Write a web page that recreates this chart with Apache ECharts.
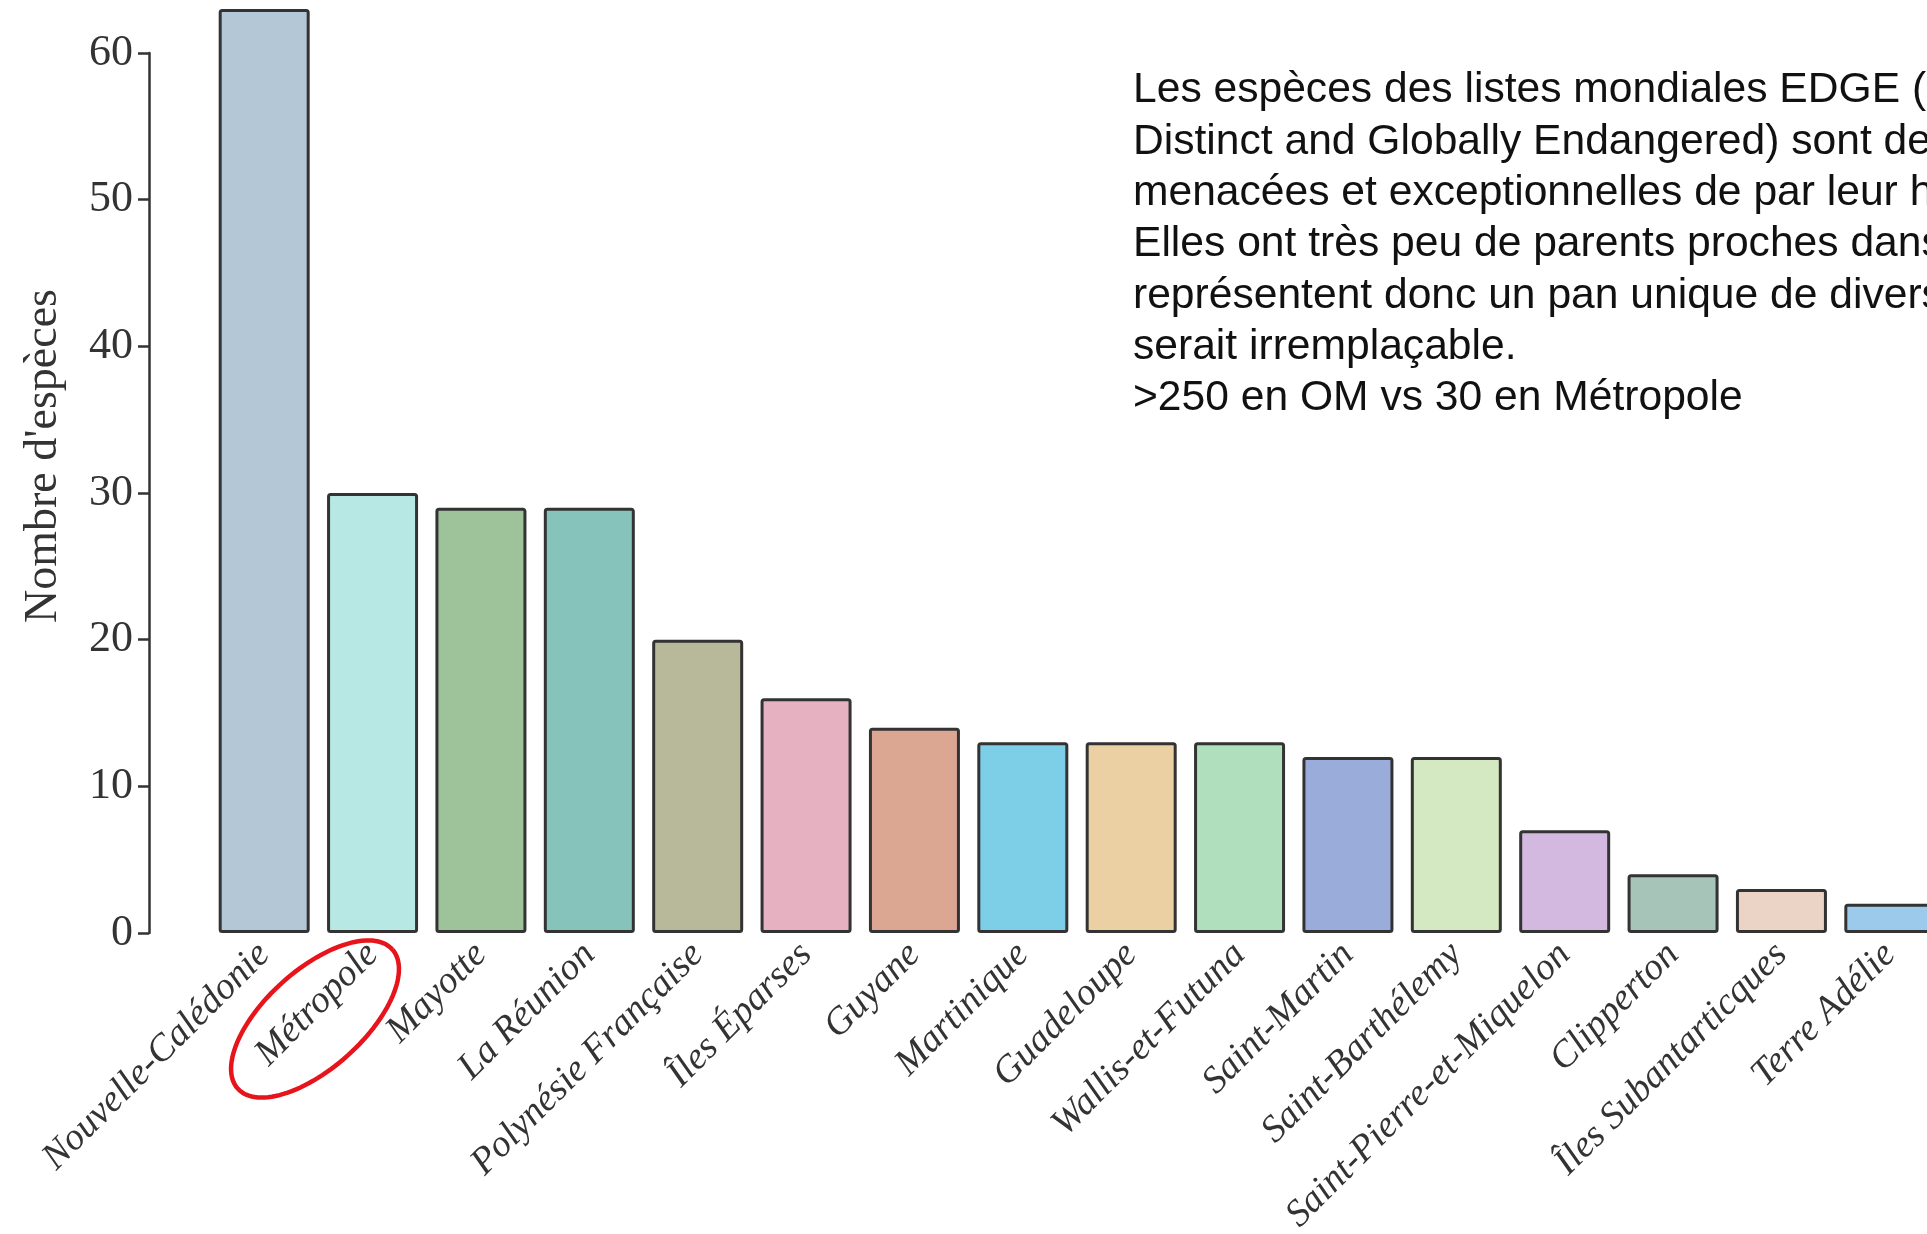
<!DOCTYPE html>
<html><head><meta charset="utf-8">
<script src="https://cdn.jsdelivr.net/npm/echarts@6/dist/echarts.min.js"></script>
<style>html,body{margin:0;padding:0;background:#fff;overflow:hidden}#c{width:1927px;height:1234px}</style>
</head><body><div id="c"></div>
<script>
const categories = ["Nouvelle-Calédonie","Métropole","Mayotte","La Réunion","Polynésie Française","Îles Éparses","Guyane","Martinique","Guadeloupe","Wallis-et-Futuna","Saint-Martin","Saint-Barthélemy","Saint-Pierre-et-Miquelon","Clipperton","Îles Subantarticques","Terre Adélie"];
const values = [63,30,29,29,20,16,14,13,13,13,12,12,7,4,3,2];
const barColors = ["#b3c7d7","#b8e8e4","#9ec29a","#86c4bb","#b8b99a","#e6b1c1","#dba692","#7dcfe8","#ebd0a3","#b0dfbd","#9aadda","#d4e9c2","#d3b8e0","#a6c4b8","#ebd4c5","#9ccaeb"];
const yTicks = [0,10,20,30,40,50,60];
const yAxisTitle = "Nombre d'espèces";
const noteLines = ["Les espèces des listes mondiales EDGE (Evolutionarily","Distinct and Globally Endangered) sont des espèces","menacées et exceptionnelles de par leur histoire","Elles ont très peu de parents proches dans","représentent donc un pan unique de diversité","serait irremplaçable.",">250 en OM vs 30 en Métropole"];

const chart = echarts.init(document.getElementById('c'), null, {renderer:'canvas'});

// red ellipse annotation around "Métropole"
function ellipsePts(cx, cy, a, b, deg){
  const r = deg*Math.PI/180, ux = Math.cos(r), uy = -Math.sin(r), vx = Math.sin(r), vy = Math.cos(r);
  const pts = [];
  for(let i=0;i<=120;i++){const t=i/120*2*Math.PI;pts.push([cx+a*Math.cos(t)*ux+b*Math.sin(t)*vx, cy+a*Math.cos(t)*uy+b*Math.sin(t)*vy]);}
  return pts;
}

chart.setOption({
  backgroundColor:'#ffffff',
  animation:false,
  grid:{left:210, top:53, width:1734, height:880, containLabel:false, outerBoundsMode:'none'},
  xAxis:{type:'category', data:categories,
    axisLine:{show:false}, axisTick:{show:false},
    axisLabel:{interval:0, rotate:45, margin:16, color:'#333', fontFamily:'Liberation Serif', fontStyle:'italic', fontSize:38}},
  yAxis:{type:'value', min:0, max:60, interval:10, offset:61,
    name:yAxisTitle, nameLocation:'middle', nameGap:82,
    nameTextStyle:{fontFamily:'Liberation Serif', fontSize:46, color:'#333', padding:[0,0,0,74]},
    axisLine:{show:true, lineStyle:{color:'#333', width:2.5}},
    axisTick:{show:true, length:11, lineStyle:{color:'#333', width:2.5}},
    splitLine:{show:false},
    axisLabel:{margin:16, color:'#333', fontFamily:'Liberation Serif', fontSize:44,
      formatter:v=>yTicks.includes(v)?String(v):''}},
  series:[{type:'bar', clip:false, barWidth:91,
    data:values.map((v,i)=>({value:v, itemStyle:{color:barColors[i]}})),
    itemStyle:{borderColor:'#333', borderWidth:3, borderRadius:2}}],
  graphic:[
    {type:'polyline', shape:{points:ellipsePts(315,1019,104,49,42)}, style:{stroke:'#e8141c', lineWidth:4.5, fill:null}, z:100},
    {type:'text', left:1133, top:65, style:{text:noteLines.join('\n'), font:'42.6px "Liberation Sans"', lineHeight:51.3, fill:'#111'}}
  ]
});
</script></body></html>
